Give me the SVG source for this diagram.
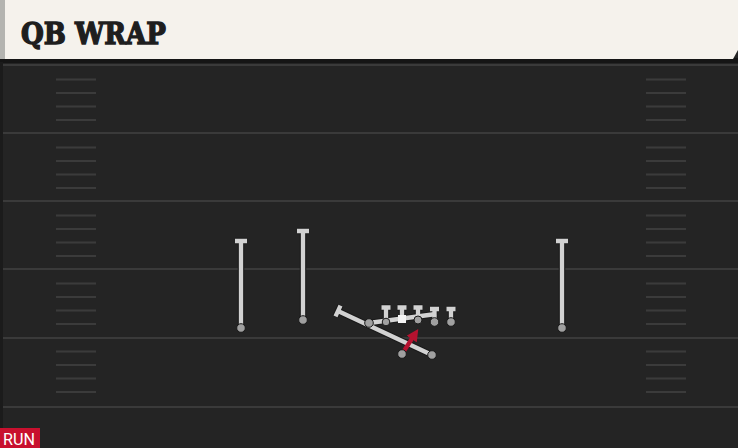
<svg xmlns="http://www.w3.org/2000/svg" width="738" height="448" viewBox="0 0 738 448">
<defs>
<style>
.yard{stroke:#3a3a3a;stroke-width:2}
.hash{stroke:#3b3b3b;stroke-width:2}
.rt-o{stroke:#1a1a1a;stroke-width:6.5;fill:none;stroke-linecap:butt}
.rt{stroke:#d2d2d2;stroke-width:4.3;fill:none;stroke-linecap:butt}
.pl{fill:#a0a0a0;stroke:#1a1a1a;stroke-width:1}
.run{stroke:#b5122f;stroke-width:4.3;fill:none}
</style>
<marker id="ah" viewBox="0 0 10 10" refX="5" refY="5" markerWidth="2.8" markerHeight="2.8" orient="auto">
<path d="M0,0 L10,5 L0,10 z" fill="#b5122f"/>
</marker>
<pattern id="hashes" x="0" y="65" width="738" height="68" patternUnits="userSpaceOnUse">
<g class="hash">
<line x1="56" y1="14.5" x2="96" y2="14.5"/><line x1="56" y1="28" x2="96" y2="28"/><line x1="56" y1="41.5" x2="96" y2="41.5"/><line x1="56" y1="55" x2="96" y2="55"/>
<line x1="646" y1="14.5" x2="686" y2="14.5"/><line x1="646" y1="28" x2="686" y2="28"/><line x1="646" y1="41.5" x2="686" y2="41.5"/><line x1="646" y1="55" x2="686" y2="55"/>
</g>
</pattern>
</defs>
<g id="field">
<rect x="0" y="0" width="738" height="448" fill="#242424"/>
<rect x="0" y="65" width="738" height="342" fill="url(#hashes)"/>
<rect x="0" y="58" width="738" height="5" fill="#151515"/>
<g class="yard">
<line x1="0" y1="65" x2="738" y2="65"/>
<line x1="0" y1="133" x2="738" y2="133"/>
<line x1="0" y1="201" x2="738" y2="201"/>
<line x1="0" y1="269" x2="738" y2="269"/>
<line x1="0" y1="338" x2="738" y2="338"/>
<line x1="0" y1="407" x2="738" y2="407"/>
</g>
<rect x="0" y="62" width="3" height="386" fill="#1b1b1b"/>
</g>
<g id="header">
<path d="M0,0 H738 V50 L733,59 H0 Z" fill="#f5f2ec"/>
<rect x="0" y="0" width="5" height="59" fill="#b4b4b0"/>
<text x="21" y="44" font-family="'DejaVu Serif', 'Liberation Serif', serif" font-weight="900" font-size="29" fill="#1e1e1e" stroke="#1e1e1e" stroke-width="1.4" textLength="145" lengthAdjust="spacingAndGlyphs">QB WRAP</text>
</g>
<g id="connectors">
<g class="rt-o">
<path d="M241,328 V241 M235,241 H247"/>
<path d="M303,320 V231 M297,231 H309"/>
<path d="M562,328 V241 M556,241 H568"/>
<path d="M386,322 V307.5 M381.5,307.5 H390.5"/>
<path d="M402,319 V307.5 M397.5,307.5 H406.5"/>
<path d="M418,320 V307.5 M413.5,307.5 H422.5"/>
<path d="M434.5,322 V309 M430,309 H439"/>
<path d="M451,322 V309 M446.5,309 H455.5"/>
<path d="M369,323 L436,314"/>
<path d="M432,355 L338,311 M335.5,316.4 L340.5,305.6"/>
</g>
<g class="rt">
<path d="M241,328 V241 M235,241 H247"/>
<path d="M303,320 V231 M297,231 H309"/>
<path d="M562,328 V241 M556,241 H568"/>
<path d="M386,322 V307.5 M381.5,307.5 H390.5"/>
<path d="M402,319 V307.5 M397.5,307.5 H406.5"/>
<path d="M418,320 V307.5 M413.5,307.5 H422.5"/>
<path d="M434.5,322 V309 M430,309 H439"/>
<path d="M451,322 V309 M446.5,309 H455.5"/>
<path d="M369,323 L436,314"/>
<path d="M432,355 L338,311 M335.5,316.4 L340.5,305.6"/>
</g>
<path class="run" d="M402,354 L415,334" marker-end="url(#ah)"/>
</g>
<g id="wr1"><circle class="pl" cx="241" cy="328" r="4.3"/></g>
<g id="wr2"><circle class="pl" cx="303" cy="320" r="4.3"/></g>
<g id="wr3"><circle class="pl" cx="562" cy="328" r="4.3"/></g>
<g id="te"><circle class="pl" cx="369" cy="323" r="4.3"/></g>
<g id="lt"><circle class="pl" cx="386" cy="322" r="3.8"/></g>
<g id="c"><rect x="398" y="315" width="8" height="8" fill="#f4f4f4"/></g>
<g id="rg"><circle class="pl" cx="418" cy="320" r="4"/></g>
<g id="rt"><circle class="pl" cx="434.5" cy="322" r="4.3"/></g>
<g id="te2"><circle class="pl" cx="451" cy="322" r="4.3"/></g>
<g id="qb"><circle class="pl" cx="432" cy="355" r="4.3"/></g>
<g id="rb"><circle class="pl" cx="402" cy="354" r="4.3"/></g>
<g id="label">
<rect x="0" y="428" width="40" height="20" fill="#c8102e"/>
<text x="3" y="445" font-family="Roboto, 'Liberation Sans', sans-serif" font-size="16" fill="#ffffff" textLength="32" lengthAdjust="spacingAndGlyphs">RUN</text>
</g>
</svg>
